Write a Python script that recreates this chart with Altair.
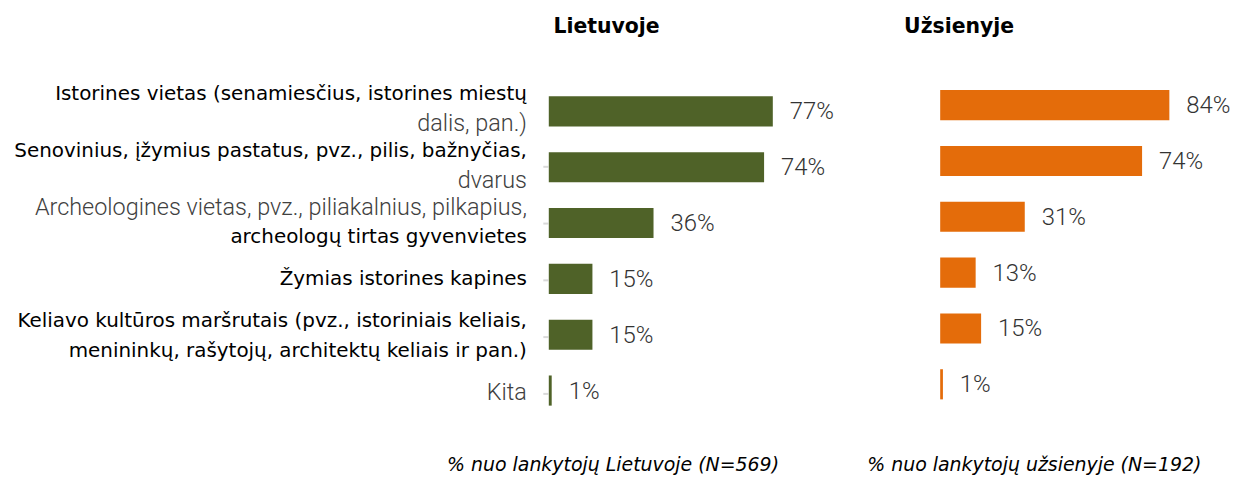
import altair as alt
import pandas as pd

# ---- data ----
categories = [
    "Istorines vietas (senamiesčius, istorines miestų dalis, pan.)",
    "Senovinius, įžymius pastatus, pvz., pilis, bažnyčias, dvarus",
    "Archeologines vietas, pvz., piliakalnius, pilkapius, archeologų tirtas gyvenvietes",
    "Žymias istorines kapines",
    "Keliavo kultūros maršrutais (pvz., istoriniais keliais, menininkų, rašytojų, architektų keliais ir pan.)",
    "Kita",
]
label_lines = [
    ["Istorines vietas (senamiesčius, istorines miestų", "dalis, pan.)"],
    ["Senovinius, įžymius pastatus, pvz., pilis, bažnyčias,", "dvarus"],
    ["Archeologines vietas, pvz., piliakalnius, pilkapius,", "archeologų tirtas gyvenvietes"],
    ["Žymias istorines kapines"],
    ["Keliavo kultūros maršrutais (pvz., istoriniais keliais,", "menininkų, rašytojų, architektų keliais ir pan.)"],
    ["Kita"],
]
light_lines = ["dalis, pan.)", "dvarus",
               "Archeologines vietas, pvz., piliakalnius, pilkapius,", "Kita"]
lt_values = [77, 74, 36, 15, 15, 1]
uz_values = [84, 74, 31, 13, 15, 1]
panel_titles = ["Lietuvoje", "Užsienyje"]
footnotes = ["% nuo lankytojų Lietuvoje (N=569)", "% nuo lankytojų užsienyje (N=192)"]

# ---- tables ----
rows = []
for cat, lines in zip(categories, label_lines):
    n = len(lines)
    for i, t in enumerate(lines):
        rows.append({"cat": cat, "text": t, "pos": i - (n - 1) / 2,
                     "light": t in light_lines})
df_lines = pd.DataFrame(rows)

df_lt = pd.DataFrame({"cat": categories, "value": lt_values,
                      "label": [f"{v}%" for v in lt_values]})
df_uz = pd.DataFrame({"cat": categories, "value": uz_values,
                      "label": [f"{v}%" for v in uz_values]})

H = 342
LINE = 30

# ---- label panel ----
label_scale = alt.Scale(domain=categories, paddingInner=0.46, paddingOuter=0.18, align=0.5)
label_layers = []
for p in (-0.5, 0.0, 0.5):
    for light in (False, True):
        style = dict(font="Roboto", fontWeight=300, fontSize=23.5, color="#404040") if light \
            else dict(font="DejaVu Sans", fontWeight="normal", fontSize=20, color="#000000")
        label_layers.append(
            alt.Chart(df_lines)
            .transform_filter(f"datum.pos == {p} && datum.light == {str(light).lower()}")
            .mark_text(align="right", baseline="middle", dy=p * LINE, **style)
            .encode(
                x=alt.value(519),
                y=alt.Y("cat:N", sort=categories, scale=label_scale,
                        axis=alt.Axis(orient="right", offset=16, domain=False, labels=False,
                                      title=None, ticks=True, tickSize=5, tickColor="#d9d9d9",
                                      tickWidth=2, bandPosition=-0.426, values=categories[1:],
                                      grid=False)),
                text="text:N",
            )
        )
panel_a = alt.layer(*label_layers).properties(width=519, height=H)


def bar_panel(df, color, width, xmax, align, title, title_x, foot, foot_x):
    yscale = alt.Scale(domain=categories, paddingInner=0.46, paddingOuter=0.28, align=align)
    base = alt.Chart(df).encode(
        y=alt.Y("cat:N", sort=categories, scale=yscale, axis=None),
        x=alt.X("value:Q", scale=alt.Scale(domain=[0, xmax]), axis=None),
    )
    bars = base.mark_bar(color=color)
    vals = base.mark_text(align="left", baseline="middle", dx=17, dy=1, font="Roboto",
                          fontWeight=300, fontSize=24, color="#333333").encode(text="label:N")
    ttl = alt.Chart(pd.DataFrame({"t": [title]})).mark_text(
        align="center", baseline="middle", font="DejaVu Sans", fontWeight="bold",
        fontSize=20.5, color="#000000").encode(text="t:N", x=alt.value(title_x), y=alt.value(-54))
    ft = alt.Chart(pd.DataFrame({"t": [foot]})).mark_text(
        align="center", baseline="middle", font="DejaVu Sans", fontStyle="italic",
        fontSize=19, color="#000000").encode(text="t:N", x=alt.value(foot_x), y=alt.value(386))
    return alt.layer(bars, vals, ttl, ft).properties(width=width, height=H)


panel_b = bar_panel(df_lt, "#4f6228", 371, 127, 0.5, panel_titles[0], 58, footnotes[0], 64.5)
panel_c = bar_panel(df_uz, "#e46c0a", 289, 105.5, 0.3, panel_titles[1], 19, footnotes[1], 94.5)

chart = (
    alt.hconcat(panel_a, panel_b, panel_c, spacing=22, bounds="flush")
    .properties(padding={"left": 2, "top": 8, "right": 0, "bottom": 0})
    .configure_view(stroke=None)
)

chart.save("out.html", embed_options={"renderer": "svg", "actions": False})
